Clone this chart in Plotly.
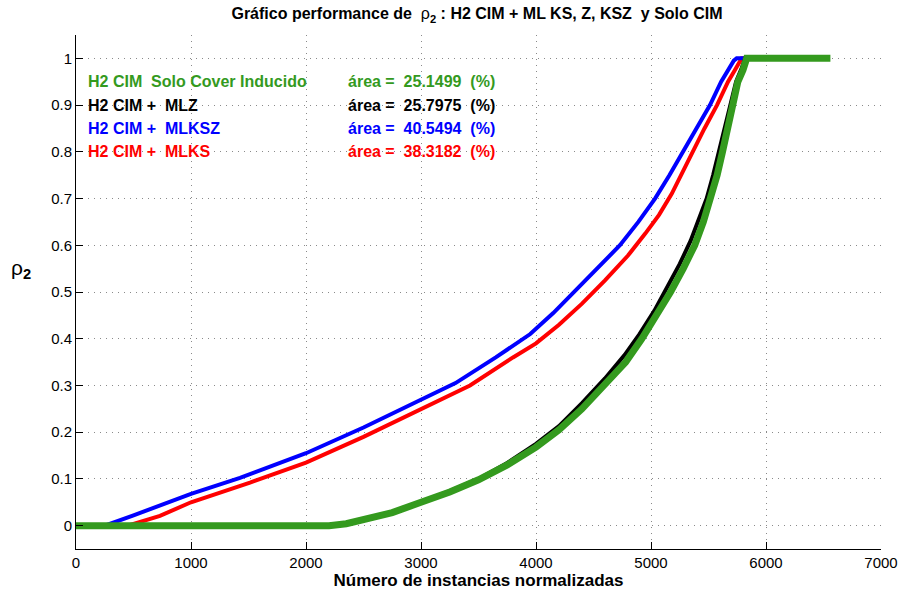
import plotly.graph_objects as go

# Curve data: instance count (x) vs rho_2 (y)
x_mlks = [0, 450, 730, 1000, 1513, 2000, 2500, 3000, 3426, 3800, 4000, 4200, 4400, 4600, 4800,
          4950, 5070, 5180, 5270, 5357, 5465, 5574, 5670, 5730, 5775, 5789, 5830]
y_mlks = [0, 0, 0.021, 0.05, 0.092, 0.135, 0.19, 0.25, 0.30, 0.36, 0.39, 0.43, 0.475, 0.525, 0.578,
          0.625, 0.665, 0.71, 0.755, 0.80, 0.85, 0.90, 0.95, 0.975, 0.995, 1.0, 1.0]

x_mlksz = [0, 250, 500, 730, 1000, 1426, 2000, 2500, 3000, 3300, 3650, 3950, 4150, 4330, 4540,
           4730, 4890, 5035, 5160, 5278, 5395, 5513, 5610, 5673, 5720, 5745, 5820]
y_mlksz = [0, 0, 0.022, 0.043, 0.068, 0.102, 0.155, 0.21, 0.268, 0.305, 0.36, 0.41, 0.455, 0.50, 0.55,
           0.60, 0.65, 0.70, 0.75, 0.80, 0.85, 0.90, 0.95, 0.975, 0.995, 1.0, 1.0]

x_mlz = [0, 2200, 2350, 2500, 2750, 3000, 3250, 3500, 3750, 4000, 4200, 4400, 4600, 4770, 4900,
         5030, 5140, 5250, 5345, 5420, 5484, 5540, 5588, 5636, 5684, 5740, 5790, 5820, 5832]
y_mlz = [0, 0, 0.004, 0.013, 0.029, 0.051, 0.074, 0.10, 0.134, 0.175, 0.213, 0.262, 0.315, 0.365, 0.41,
         0.46, 0.51, 0.56, 0.61, 0.66, 0.70, 0.75, 0.80, 0.85, 0.90, 0.95, 0.98, 1.0, 1.0]

x_solo = [0, 2200, 2350, 2500, 2750, 3000, 3250, 3500, 3750, 4000, 4200, 4400, 4600, 4780, 4920,
          5050, 5170, 5280, 5380, 5455, 5520, 5575, 5622, 5665, 5705, 5755, 5800, 5832, 6560]
y_solo = [0, 0, 0.004, 0.012, 0.028, 0.050, 0.072, 0.098, 0.13, 0.168, 0.205, 0.25, 0.30, 0.35, 0.40,
          0.45, 0.50, 0.55, 0.60, 0.65, 0.70, 0.75, 0.80, 0.85, 0.90, 0.95, 0.975, 1.0, 1.0]

# Legend-like labels written inside the axes
labels = ["H2 CIM\u00a0 Solo Cover Inducido", "H2 CIM +\u00a0 MLZ", "H2 CIM +\u00a0 MLKSZ", "H2 CIM +\u00a0 MLKS"]
areas = [25.1499, 25.7975, 40.5494, 38.3182]
label_y = [0.95, 0.90, 0.85, 0.80]

GREEN = "#349a1e"
colors = [GREEN, "#000000", "#0000ff", "#ff0000"]

FONT = "Liberation Sans, Arial, sans-serif"

fig = go.Figure()
series = [
    (x_mlks, y_mlks, "#ff0000", 4),
    (x_mlksz, y_mlksz, "#0000ff", 4),
    (x_mlz, y_mlz, "#000000", 4),
    (x_solo, y_solo, GREEN, 7),
]
for xs, ys, c, w in series:
    fig.add_trace(go.Scatter(x=xs, y=ys, mode="lines", line=dict(color=c, width=w)))

for lab, area, yy, c in zip(labels, areas, label_y, colors):
    fig.add_annotation(x=90, y=yy, xref="x", yref="y", text=f"<b>{lab}</b>", showarrow=False,
                       xanchor="left", yanchor="middle", font=dict(family=FONT, size=16, color=c))
    fig.add_annotation(x=2350, y=yy, xref="x", yref="y",
                       text=f"<b>área =\u00a0 {area:.4f}\u00a0 (%)</b>", showarrow=False,
                       xanchor="left", yanchor="middle", font=dict(family=FONT, size=16, color=c))

# Horizontal y-axis label
fig.add_annotation(x=-0.068, y=0.545, xref="paper", yref="paper", text="ρ<sub><b>2</b></sub>",
                   showarrow=False, xanchor="center", yanchor="middle",
                   font=dict(family=FONT, size=21, color="black"))

axis_common = dict(
    showline=True, linecolor="black", linewidth=1, mirror=False,
    ticks="inside", ticklen=7, tickcolor="black",
    showgrid=True, gridcolor="#8a8a8a", griddash="1px,5px", gridwidth=1,
    zeroline=False, automargin=False,
    tickfont=dict(family=FONT, size=15, color="black"),
)

fig.update_layout(
    width=900, height=592,
    margin=dict(l=76, r=19, t=35, b=43),
    paper_bgcolor="white", plot_bgcolor="white",
    showlegend=False,
    title=dict(
        text="<b>Gráfico performance de\u00a0 </b>ρ<sub><b>2</b></sub><b> : H2 CIM + ML KS, Z, KSZ\u00a0 y Solo CIM</b>",
        x=0.53, xanchor="center", y=0.977, yanchor="middle",
        font=dict(family=FONT, size=16, color="black"),
    ),
    xaxis=dict(range=[0, 7000], tickvals=[0, 1000, 2000, 3000, 4000, 5000, 6000, 7000],
               title=dict(text="<b>Número de instancias normalizadas</b>", standoff=2,
                          font=dict(family=FONT, size=17, color="black")),
               **axis_common),
    yaxis=dict(range=[-0.05, 1.05], tickvals=[0, 0.1, 0.2, 0.3, 0.4, 0.5, 0.6, 0.7, 0.8, 0.9, 1],
               ticktext=["0", "0.1", "0.2", "0.3", "0.4", "0.5", "0.6", "0.7", "0.8", "0.9", "1"],
               **axis_common),
)

fig.write_html("out.html")
